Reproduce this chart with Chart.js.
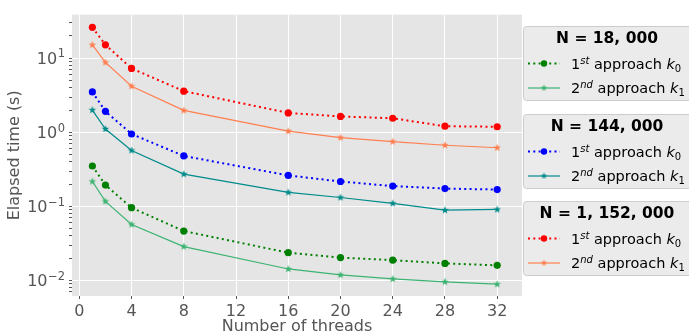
<!DOCTYPE html>
<html>
<head>
<meta charset="utf-8">
<script src="https://cdn.jsdelivr.net/npm/chart.js@4.4.1/dist/chart.umd.min.js"></script>
<style>
  html, body { margin: 0; padding: 0; background: #fff; }
  #timeChart { display: block; background: #fff; }
</style>
</head>
<body>
<canvas id="timeChart" width="689" height="336"></canvas>
<script>
// Elapsed time vs number of threads, three problem sizes, two approaches
const threads = [1, 2, 4, 8, 16, 20, 24, 28, 32];

const n18kFirst = [0.351, 0.194, 0.096, 0.0465, 0.0237, 0.0204, 0.0188, 0.017, 0.016];
const n18kSecond = [0.217, 0.117, 0.057, 0.0287, 0.0143, 0.0119, 0.0105, 0.0096, 0.0089];
const n144kFirst = [3.51, 1.92, 0.95, 0.48, 0.262, 0.217, 0.188, 0.174, 0.169];
const n144kSecond = [2.0, 1.11, 0.57, 0.273, 0.155, 0.132, 0.11, 0.089, 0.091];
const n1152kFirst = [26.2, 15.2, 7.3, 3.6, 1.83, 1.64, 1.55, 1.21, 1.19];
const n1152kSecond = [15.2, 8.8, 4.2, 1.98, 1.04, 0.85, 0.75, 0.67, 0.62];

const groupTitles = ["N = 18, 000", "N = 144, 000", "N = 1, 152, 000"];
const approachNumbers = ["1", "2"];
const approachOrdinals = ["st", "nd"];
const kernelIndex = ["0", "1"];

const xTicks = [0, 4, 8, 12, 16, 20, 24, 28, 32];
const yMajorTicks = [0.01, 0.1, 1, 10];
const yMajorExponents = ["\u22122", "\u22121", "0", "1"];

const FONT = "'DejaVu Sans', 'Liberation Sans', sans-serif";

// filled 5-point star used as point style
function makeStar(color, outer) {
  const inner = outer * 0.42;
  const size = Math.ceil(outer * 2 + 2);
  const c = document.createElement("canvas");
  c.width = size;
  c.height = size;
  const g = c.getContext("2d");
  g.fillStyle = color;
  g.beginPath();
  for (let i = 0; i < 10; i++) {
    const r = i % 2 === 0 ? outer : inner;
    const a = -Math.PI / 2 + (i * Math.PI) / 5;
    const px = size / 2 + r * Math.cos(a);
    const py = size / 2 + r * Math.sin(a);
    if (i === 0) g.moveTo(px, py);
    else g.lineTo(px, py);
  }
  g.closePath();
  g.fill();
  return c;
}

function toPoints(values) {
  return threads.map((t, i) => ({ x: t, y: values[i] }));
}

function firstApproach(values, color) {
  return {
    data: toPoints(values),
    borderColor: color,
    backgroundColor: color,
    borderWidth: 2,
    borderDash: [2, 3.3],
    pointStyle: "circle",
    pointRadius: 3.6,
    pointBorderWidth: 0,
    pointBackgroundColor: color,
    tension: 0,
    kind: 0,
  };
}

function secondApproach(values, color) {
  return {
    data: toPoints(values),
    borderColor: color,
    backgroundColor: color,
    borderWidth: 1.2,
    pointStyle: makeStar(color, 4),
    legendStar: makeStar(color, 3.4),
    pointRadius: 4,
    tension: 0,
    kind: 1,
  };
}

const datasets = [
  firstApproach(n18kFirst, "#008000"),
  secondApproach(n18kSecond, "#3CB371"),
  firstApproach(n144kFirst, "#0000FF"),
  secondApproach(n144kSecond, "#008B8B"),
  firstApproach(n1152kFirst, "#FF0000"),
  secondApproach(n1152kSecond, "#FF7F50"),
];

function isMajor(value) {
  return yMajorTicks.findIndex((m) => Math.abs(m - value) < m * 1e-6);
}

const plotBackground = {
  id: "plotBackground",
  beforeDraw(chart) {
    const { ctx, chartArea: a } = chart;
    ctx.save();
    ctx.fillStyle = "#E5E5E5";
    ctx.fillRect(a.left, a.top, a.right - a.left, a.bottom - a.top);
    ctx.restore();
  },
};

// y labels as 10 with a raised exponent, like mathtext
const powerLabels = {
  id: "powerLabels",
  afterDraw(chart) {
    const { ctx } = chart;
    const y = chart.scales.y;
    const right = 64.5;
    ctx.save();
    ctx.fillStyle = "#555555";
    ctx.textAlign = "left";
    ctx.textBaseline = "alphabetic";
    yMajorTicks.forEach((v, i) => {
      const py = y.getPixelForValue(v);
      ctx.font = "11.5px " + FONT;
      const wSup = ctx.measureText(yMajorExponents[i]).width;
      ctx.font = "16px " + FONT;
      const wBase = ctx.measureText("10").width;
      const x0 = right - wSup - wBase;
      ctx.fillText("10", x0, py + 5.6);
      ctx.font = "11.5px " + FONT;
      ctx.fillText(yMajorExponents[i], x0 + wBase + 0.5, py - 0.8);
    });
    ctx.restore();
  },
};

// draws "1st approach k0" with superscript / italic / subscript parts
function drawEntryText(ctx, x, y, j) {
  const parts = [
    { t: approachNumbers[j], font: "14.5px " + FONT, dy: 0 },
    { t: approachOrdinals[j], font: "italic 10px " + FONT, dy: -5 },
    { t: " approach ", font: "14.5px " + FONT, dy: 0 },
    { t: "k", font: "italic 14.5px " + FONT, dy: 0 },
    { t: kernelIndex[j], font: "10px " + FONT, dy: 3 },
  ];
  ctx.textAlign = "left";
  ctx.textBaseline = "alphabetic";
  let cx = x;
  parts.forEach((p) => {
    ctx.font = p.font;
    ctx.fillText(p.t, cx, y + p.dy);
    cx += ctx.measureText(p.t).width;
  });
}

const groupLegend = {
  id: "groupLegend",
  afterDraw(chart) {
    const ctx = chart.ctx;
    const boxLeft = 523.5;
    const boxTops = [26.5, 114.5, 201.5];
    groupTitles.forEach((title, g) => {
      const top = boxTops[g];
      ctx.save();
      ctx.beginPath();
      ctx.roundRect(boxLeft, top, 175, 74, 3);
      ctx.fillStyle = "#EBEBEB";
      ctx.fill();
      ctx.strokeStyle = "#CCCCCC";
      ctx.lineWidth = 1;
      ctx.stroke();

      ctx.fillStyle = "#000";
      ctx.font = "bold 15.5px " + FONT;
      ctx.textAlign = "center";
      ctx.textBaseline = "middle";
      ctx.fillText(title, 607, top + 12);

      [0, 1].forEach((j) => {
        const ds = chart.data.datasets[g * 2 + j];
        const y = top + 37 + j * 24.5;
        ctx.save();
        ctx.strokeStyle = ds.borderColor;
        ctx.lineWidth = ds.borderWidth;
        ctx.setLineDash(ds.borderDash || []);
        ctx.beginPath();
        ctx.moveTo(528, y);
        ctx.lineTo(560, y);
        ctx.stroke();
        ctx.restore();
        if (ds.kind === 0) {
          ctx.fillStyle = ds.borderColor;
          ctx.beginPath();
          ctx.arc(544, y, 3.2, 0, Math.PI * 2);
          ctx.fill();
        } else {
          const s = ds.legendStar;
          ctx.drawImage(s, 544 - s.width / 2, y - s.height / 2);
        }
        ctx.fillStyle = "#000";
        drawEntryText(ctx, 571, y + 5, j);
      });
      ctx.restore();
    });
  },
};

const ctx = document.getElementById("timeChart").getContext("2d");

new Chart(ctx, {
  type: "line",
  data: { datasets: datasets },
  options: {
    responsive: false,
    animation: false,
    layout: { padding: { top: 6, right: 167, left: 0, bottom: 0 } },
    plugins: {
      legend: { display: false },
      tooltip: { enabled: false },
    },
    scales: {
      x: {
        type: "linear",
        min: -0.56,
        max: 33.9,
        afterBuildTicks: (axis) => {
          axis.ticks = xTicks.map((v) => ({ value: v }));
        },
        afterFit: (axis) => {
          axis.height = 40;
        },
        border: { display: false },
        grid: {
          color: "#FFFFFF",
          lineWidth: 1,
          tickColor: "#555555",
          tickLength: 3,
        },
        ticks: {
          color: "#555555",
          font: { family: FONT, size: 16 },
          padding: 3,
          maxRotation: 0,
          autoSkip: false,
        },
        title: {
          display: true,
          text: "Number of threads",
          color: "#555555",
          font: { family: FONT, size: 16 },
          padding: { top: -1, bottom: 0 },
        },
      },
      y: {
        type: "logarithmic",
        min: 0.00617,
        max: 38.9,
        afterBuildTicks: (axis) => {
          const ticks = [];
          [0.001, 0.01, 0.1, 1, 10].forEach((base) => {
            for (let m = 1; m <= 9; m++) {
              const v = base * m;
              if (v >= axis.min && v <= axis.max) ticks.push({ value: v });
            }
          });
          axis.ticks = ticks;
        },
        afterFit: (axis) => {
          axis.width = 72;
        },
        border: { display: false },
        grid: {
          color: (c) => (c.tick && isMajor(c.tick.value) >= 0 ? "#FFFFFF" : "rgba(0,0,0,0)"),
          lineWidth: 1,
          tickColor: "#555555",
          tickLength: 3,
        },
        ticks: {
          color: "#555555",
          font: { family: FONT, size: 16 },
          padding: 5,
          autoSkip: false,
          callback: () => "",
        },
        title: {
          display: true,
          text: "Elapsed time (s)",
          color: "#555555",
          font: { family: FONT, size: 16 },
          padding: { top: 5.5, bottom: 0 },
        },
      },
    },
  },
  plugins: [plotBackground, powerLabels, groupLegend],
});
</script>
</body>
</html>
